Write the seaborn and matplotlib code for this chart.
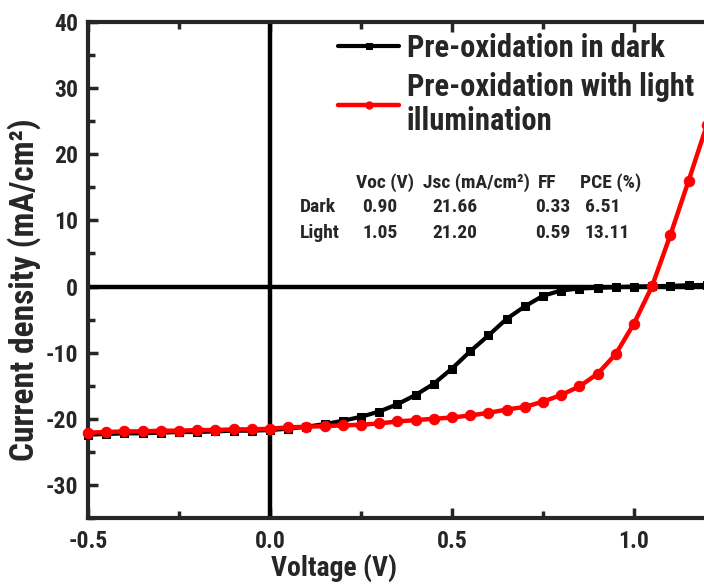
import matplotlib
matplotlib.use("Agg")
import matplotlib.pyplot as plt
from matplotlib.ticker import MultipleLocator, FormatStrFormatter
import pandas as pd
import seaborn as sns

# J-V sweep, 0.05 V steps
voltage = [-0.50, -0.45, -0.40, -0.35, -0.30, -0.25, -0.20, -0.15, -0.10, -0.05,
           0.00, 0.05, 0.10, 0.15, 0.20, 0.25, 0.30, 0.35, 0.40, 0.45,
           0.50, 0.55, 0.60, 0.65, 0.70, 0.75, 0.80, 0.85, 0.90, 0.95,
           1.00, 1.05, 1.10, 1.15, 1.20]
j_dark = [-22.4, -22.3, -22.2, -22.2, -22.1, -22.0, -22.0, -21.9, -21.8, -21.8,
          -21.7, -21.5, -21.2, -20.8, -20.3, -19.7, -18.9, -17.8, -16.4, -14.7,
          -12.4, -9.8, -7.4, -4.9, -3.0, -1.4, -0.6, -0.3, -0.2, -0.1,
          0.0, 0.05, 0.1, 0.2, 0.25]
j_light = [-22.1, -22.0, -21.9, -21.9, -21.8, -21.8, -21.7, -21.7, -21.6, -21.6,
           -21.5, -21.3, -21.2, -21.1, -21.0, -20.9, -20.7, -20.4, -20.2, -20.0,
           -19.8, -19.5, -19.1, -18.6, -18.2, -17.4, -16.4, -15.1, -13.2, -10.2,
           -5.6, 0.1, 7.8, 16.0, 24.4]

series_labels = ["Pre-oxidation in dark", "Pre-oxidation with light\nillumination"]
table_columns = ["Voc (V)", "Jsc (mA/cm²)", "FF", "PCE (%)"]
table_rows = ["Dark", "Light"]
table_values = [["0.90", "21.66", "0.33", "6.51"],
                ["1.05", "21.20", "0.59", "13.11"]]

W, H = 704, 585

sns.set_theme(style="ticks")
plt.rcParams["font.family"] = ["Roboto Condensed", "Liberation Sans", "DejaVu Sans"]
plt.rcParams["font.weight"] = "bold"

df = pd.DataFrame({"V": voltage, "dark": j_dark, "light": j_light})

fig = plt.figure(figsize=(W / 100, H / 100), dpi=100)
ax = fig.add_axes([88 / W, 1 - 518 / H, 1 - 88 / W, (518 - 22) / H])

ax.axhline(0, color="black", lw=3.2, zorder=1)
ax.axvline(0, color="black", lw=3.2, zorder=1)

sns.lineplot(data=df, x="V", y="dark", ax=ax, color="black", lw=3, marker="s",
             markersize=6, markeredgecolor="black", label=series_labels[0],
             clip_on=False, zorder=3)
sns.lineplot(data=df, x="V", y="light", ax=ax, color="#ff0000", lw=3.2, marker="o",
             markersize=7.5, markeredgecolor="#ff0000", label=series_labels[1],
             clip_on=False, zorder=4)

ax.set_xlim(-0.5, -0.5 + (W - 88) / 364)
ax.set_ylim(-35, 40)
ax.xaxis.set_major_locator(MultipleLocator(0.5))
ax.xaxis.set_minor_locator(MultipleLocator(0.25))
ax.yaxis.set_major_locator(MultipleLocator(10))
ax.yaxis.set_minor_locator(MultipleLocator(5))
ax.xaxis.set_major_formatter(FormatStrFormatter("%.1f"))
ax.yaxis.set_major_formatter(FormatStrFormatter("%d"))

for side in ["left", "bottom", "top"]:
    ax.spines[side].set_linewidth(3)
ax.spines["right"].set_visible(False)
ax.tick_params(which="both", direction="in", width=2.5, top=True, right=False,
               labelsize=17)
ax.tick_params(axis="y", pad=7)
ax.tick_params(axis="x", pad=9)
ax.tick_params(which="major", length=7)
ax.tick_params(which="minor", length=5)
for lab in ax.get_xticklabels() + ax.get_yticklabels():
    lab.set_fontweight("bold")

ax.set_xlabel("Voltage (V)", fontsize=20, fontweight="bold")
ax.set_ylabel("Current density (mA/cm²)", fontsize=24, fontweight="bold")
ax.xaxis.set_label_coords(0.40, -0.072)
ax.yaxis.set_label_coords(-0.076, 0.46)

leg = ax.legend(loc="upper left", bbox_to_anchor=(338 / W, 1 - 33 / H),
                bbox_transform=fig.transFigure, frameon=False,
                fontsize=22, handlelength=2.0, handletextpad=0.25, labelspacing=0.3,
                borderpad=0, borderaxespad=0, markerscale=0.7)
for t in leg.get_texts():
    t.set_fontweight("bold")
    t.set_linespacing(1.15)


def put(x, y, s):
    # place a label by pixel position measured from the top-left corner
    fig.text(x / W, 1 - y / H, s, fontsize=14, fontweight="bold",
             va="center", ha="left")


# Device parameter table
for x, txt in zip([356, 423, 538, 580], table_columns):
    put(x, 183, txt)
for y, name, vals in zip([207, 233], table_rows, table_values):
    put(300, y, name)
    for x, v in zip([362, 432, 535, 585], vals):
        put(x, y, v)

fig.savefig("out.png", dpi=100)
